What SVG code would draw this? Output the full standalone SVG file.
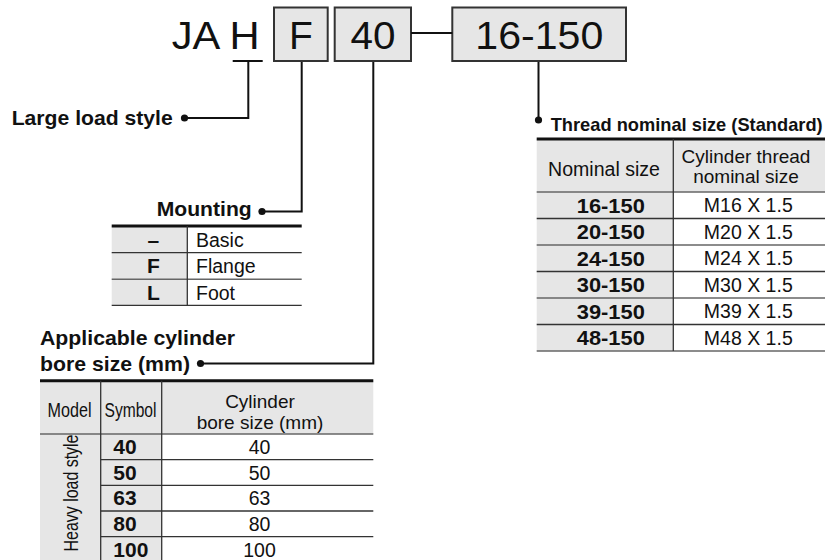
<svg xmlns="http://www.w3.org/2000/svg" width="840" height="560" viewBox="0 0 840 560">
<style>
text{font-family:"Liberation Sans",Arial,sans-serif;fill:#111}
.t{font-size:39px}
.lb{font-size:21px;font-weight:bold}
.c{font-size:19.5px}
.h{font-size:19px}
.cb{font-size:21px;font-weight:bold}
.m{text-anchor:middle}
.box{fill:#e6e6e6;stroke:#333;stroke-width:2}
.conn{fill:none;stroke:#111;stroke-width:2}
.dot{fill:#111}
.g{fill:#e6e6e6}
.top{stroke:#111;stroke-width:3}
.ln{stroke:#333;stroke-width:1.3}
.lg{stroke:#666;stroke-width:1.5}
</style>
<rect width="840" height="560" fill="#fff"/>

<g id="title">
<text class="t" x="171.7" y="48.5" textLength="88" lengthAdjust="spacingAndGlyphs">JA H</text>
</g>
<g id="box-F">
<rect class="box" x="274" y="7.5" width="53.7" height="53.5"/>
<text class="t m" x="301" y="48.5">F</text>
</g>
<g id="box-40">
<rect class="box" x="334.7" y="7.5" width="76.3" height="53.5"/>
<text class="t m" x="373" y="48.5" textLength="45" lengthAdjust="spacingAndGlyphs">40</text>
</g>
<g id="box-16-150">
<rect class="box" x="452.3" y="7.5" width="173.7" height="53.5"/>
<text class="t m" x="539.3" y="48.5" textLength="128" lengthAdjust="spacingAndGlyphs">16-150</text>
</g>

<g id="connectors">
<line class="conn" x1="411" y1="33" x2="452.3" y2="33"/>
<polyline class="conn" points="232.7,61 262.7,61"/>
<polyline class="conn" points="248.3,61 248.3,118 184.5,118"/>
<circle class="dot" cx="184.5" cy="118" r="3.6"/>
<polyline class="conn" points="301.7,62 301.7,211.5 262,211.5"/>
<circle class="dot" cx="262" cy="211.5" r="3.6"/>
<polyline class="conn" points="373.3,62 373.3,363.5 200.5,363.5"/>
<circle class="dot" cx="200.5" cy="363.5" r="3.6"/>
<polyline class="conn" points="538.5,62 538.5,120"/>
<circle class="dot" cx="538.5" cy="120" r="3.6"/>
</g>

<g id="large-load-style">
<text class="lb" x="11.7" y="124.5" textLength="161" lengthAdjust="spacingAndGlyphs">Large load style</text>
</g>

<g id="mounting">
<text class="lb" x="156.7" y="215.5" textLength="95" lengthAdjust="spacingAndGlyphs">Mounting</text>
<rect class="g" x="111.7" y="226" width="75.6" height="79.3"/>
<line class="top" x1="111.7" y1="226" x2="301.7" y2="226"/>
<line class="ln" x1="111.7" y1="252.7" x2="301.7" y2="252.7"/>
<line class="lg" x1="111.7" y1="279.3" x2="301.7" y2="279.3"/>
<line class="ln" x1="111.7" y1="305.3" x2="301.7" y2="305.3"/>
<line class="ln" x1="187.3" y1="226" x2="187.3" y2="305.3"/>
<text class="cb m" x="153.3" y="246.5">–</text>
<text class="cb m" x="153.3" y="273">F</text>
<text class="cb m" x="153.3" y="299.5">L</text>
<text class="c" x="196" y="246.5">Basic</text>
<text class="c" x="196" y="273">Flange</text>
<text class="c" x="196" y="299.5">Foot</text>
</g>

<g id="bore-size">
<text class="lb" x="40" y="345" textLength="195" lengthAdjust="spacingAndGlyphs">Applicable cylinder</text>
<text class="lb" x="40" y="370.5" textLength="150" lengthAdjust="spacingAndGlyphs">bore size (mm)</text>
<rect class="g" x="40" y="380.7" width="333.3" height="53.3"/>
<rect class="g" x="40" y="434" width="121.7" height="130"/>
<line class="top" x1="40" y1="380.7" x2="373.3" y2="380.7"/>
<line class="lg" x1="40" y1="434" x2="373.3" y2="434"/>
<line class="ln" x1="100.7" y1="459.7" x2="373.3" y2="459.7"/>
<line class="ln" x1="100.7" y1="485.3" x2="373.3" y2="485.3"/>
<line class="ln" x1="100.7" y1="511" x2="373.3" y2="511"/>
<line class="ln" x1="100.7" y1="536.7" x2="373.3" y2="536.7"/>
<line class="ln" x1="100.7" y1="380.7" x2="100.7" y2="564"/>
<line class="ln" x1="161.7" y1="380.7" x2="161.7" y2="564"/>
<text class="c m" x="69.5" y="417" textLength="44" lengthAdjust="spacingAndGlyphs">Model</text>
<text class="c m" x="130.5" y="417" textLength="52" lengthAdjust="spacingAndGlyphs">Symbol</text>
<text class="h m" x="260" y="408">Cylinder</text>
<text class="h m" x="260" y="428.5">bore size (mm)</text>
<text class="c m" transform="translate(77.5,493) rotate(-90)" textLength="117" lengthAdjust="spacingAndGlyphs">Heavy load style</text>
<text class="cb" x="113.3" y="454">40</text>
<text class="cb" x="113.3" y="479.7">50</text>
<text class="cb" x="113.3" y="505.4">63</text>
<text class="cb" x="113.3" y="531">80</text>
<text class="cb" x="113.3" y="556.7">100</text>
<text class="c m" x="259.5" y="453.8">40</text>
<text class="c m" x="259.5" y="479.5">50</text>
<text class="c m" x="259.5" y="505.2">63</text>
<text class="c m" x="259.5" y="530.8">80</text>
<text class="c m" x="259.5" y="556.5">100</text>
</g>

<g id="thread-size">
<text x="550.7" y="131" font-size="19" font-weight="bold" textLength="272" lengthAdjust="spacingAndGlyphs">Thread nominal size (Standard)</text>
<rect class="g" x="536.7" y="139" width="288.3" height="53"/>
<rect class="g" x="536.7" y="192" width="136.6" height="159"/>
<line class="top" x1="536.7" y1="139" x2="825" y2="139"/>
<line class="lg" x1="536.7" y1="192" x2="825" y2="192"/>
<line class="ln" x1="536.7" y1="218.5" x2="825" y2="218.5"/>
<line class="lg" x1="536.7" y1="245" x2="825" y2="245"/>
<line class="ln" x1="536.7" y1="271.5" x2="825" y2="271.5"/>
<line class="lg" x1="536.7" y1="298" x2="825" y2="298"/>
<line class="ln" x1="536.7" y1="324.5" x2="825" y2="324.5"/>
<line class="lg" x1="536.7" y1="351" x2="825" y2="351"/>
<line class="ln" x1="673.3" y1="139" x2="673.3" y2="351"/>
<text class="c m" x="604" y="175.5" textLength="112" lengthAdjust="spacingAndGlyphs">Nominal size</text>
<text class="h m" x="746" y="162.5">Cylinder thread</text>
<text class="h m" x="746" y="183">nominal size</text>
<text class="cb m" x="610.8" y="212.5" textLength="68" lengthAdjust="spacingAndGlyphs">16-150</text>
<text class="cb m" x="610.8" y="239" textLength="68" lengthAdjust="spacingAndGlyphs">20-150</text>
<text class="cb m" x="610.8" y="265.5" textLength="68" lengthAdjust="spacingAndGlyphs">24-150</text>
<text class="cb m" x="610.8" y="292" textLength="68" lengthAdjust="spacingAndGlyphs">30-150</text>
<text class="cb m" x="610.8" y="318.5" textLength="68" lengthAdjust="spacingAndGlyphs">39-150</text>
<text class="cb m" x="610.8" y="345" textLength="68" lengthAdjust="spacingAndGlyphs">48-150</text>
<text class="c m" x="748.3" y="212.3">M16 X 1.5</text>
<text class="c m" x="748.3" y="238.8">M20 X 1.5</text>
<text class="c m" x="748.3" y="265.3">M24 X 1.5</text>
<text class="c m" x="748.3" y="291.8">M30 X 1.5</text>
<text class="c m" x="748.3" y="318.3">M39 X 1.5</text>
<text class="c m" x="748.3" y="344.8">M48 X 1.5</text>
</g>
</svg>
